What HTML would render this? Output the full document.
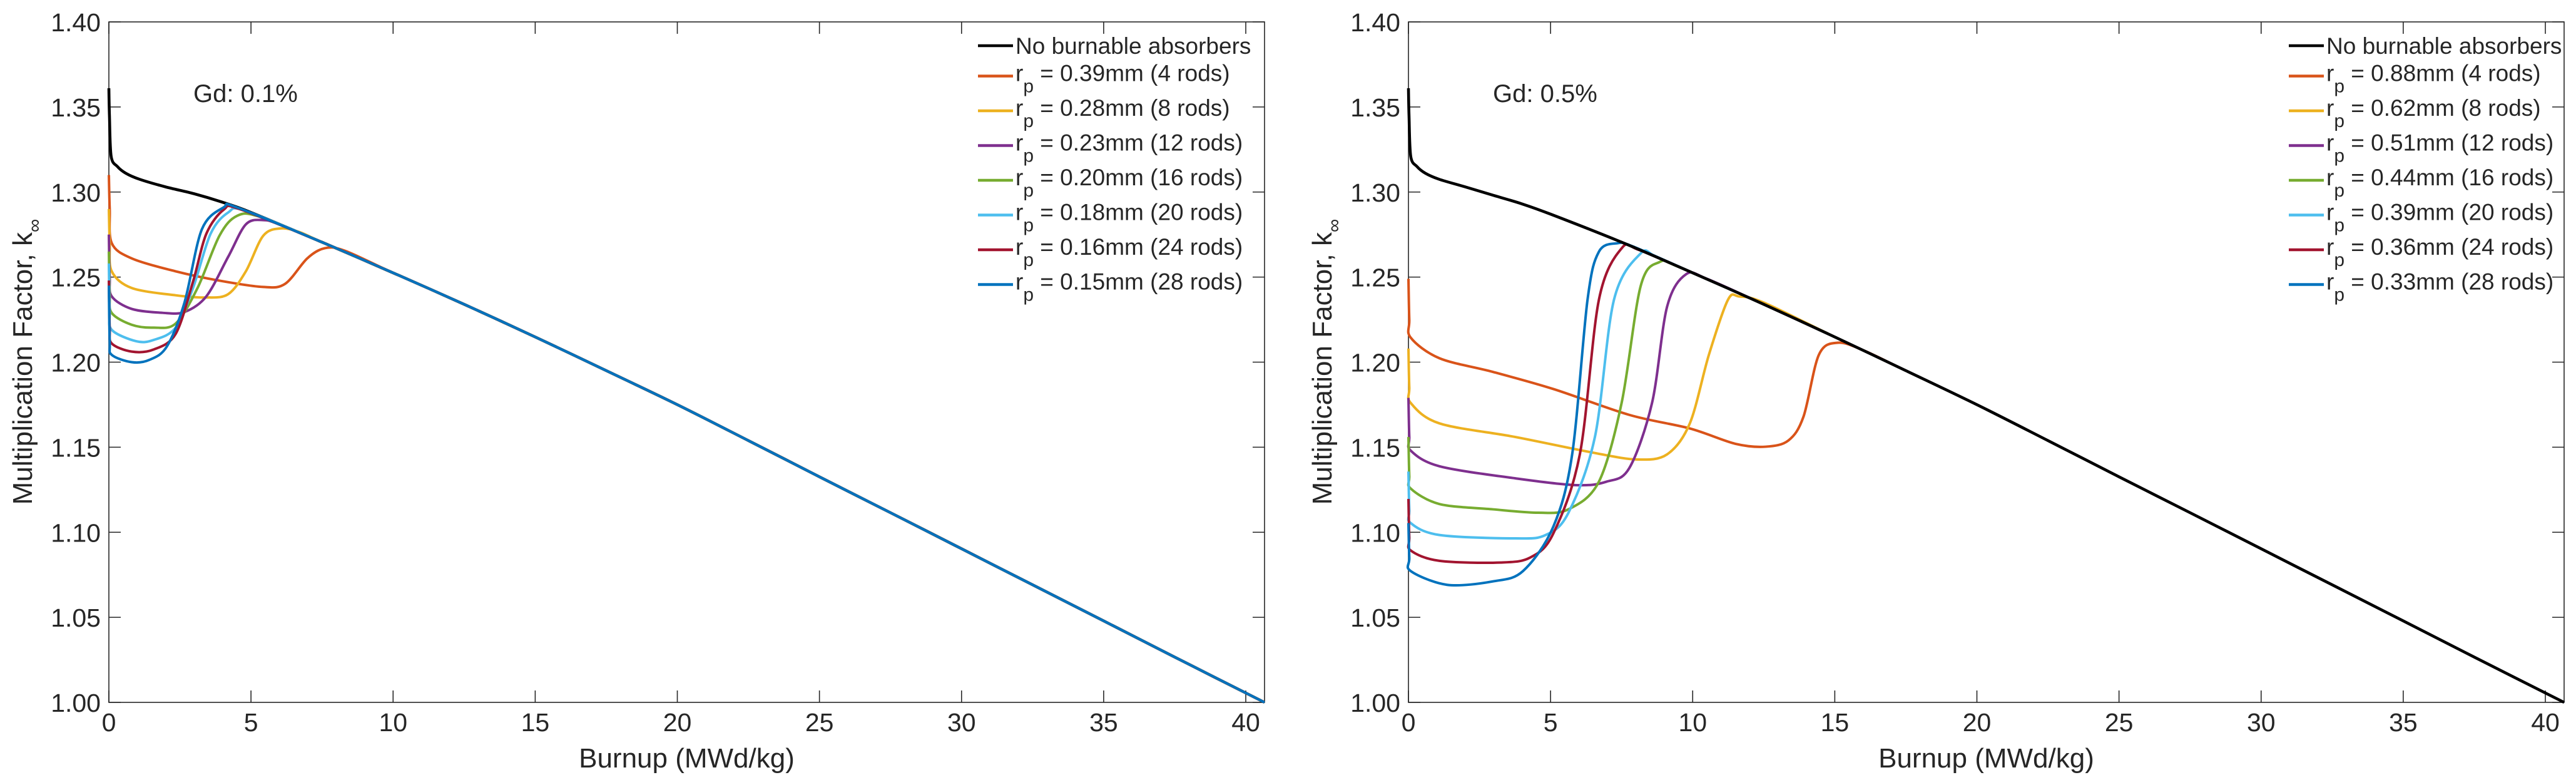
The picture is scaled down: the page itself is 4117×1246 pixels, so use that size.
<!DOCTYPE html>
<html><head><meta charset="utf-8"><style>
html,body{margin:0;padding:0;background:#fff;}
svg{display:block;}
text{font-family:"Liberation Sans",sans-serif;fill:#262626;}
</style></head>
<body>
<svg id="fig" width="4117" height="1246" viewBox="0 0 4117 1246" xmlns="http://www.w3.org/2000/svg"></svg>
<script>
// ---- shared axis ticks ----
const xTicks = [0,5,10,15,20,25,30,35,40];
const yTicks = [1.00,1.05,1.10,1.15,1.20,1.25,1.30,1.35,1.40];
const seriesColors = ["#D95319","#EDB120","#7E2F8E","#77AC30","#4DBEEE","#A2142F","#0072BD"];

// ---- left panel (Gd 0.1%) ----
const leftLegend = ["0.39mm (4 rods)","0.28mm (8 rods)","0.23mm (12 rods)","0.20mm (16 rods)","0.18mm (20 rods)","0.16mm (24 rods)","0.15mm (28 rods)"];
const leftBlackX = [0,0.02,0.08,0.3,0.6,1.08,2,3,4,5,7.5,10,12.5,15,17.5,20,22.5,25,27.5,30,32.5,35,37.5,40.66];
const leftBlackY = [1.361,1.345,1.321,1.315,1.311,1.3075,1.303,1.299,1.294,1.288,1.2705,1.2525,1.234,1.2148,1.195,1.175,1.1539,1.1326,1.1115,1.0903,1.0691,1.0479,1.0266,1.000];
const left4X = [0,0.03,0.1,0.8,2.35,3.89,5.43,6.2,6.98,7.6,8.3];
const left4Y = [1.310,1.290,1.270,1.261,1.2534,1.2479,1.2442,1.246,1.261,1.267,1.2655];
const left8X = [0,0.03,0.1,0.8,2.35,3.43,4.2,4.82,5.43,6.05,6.7];
const left8Y = [1.290,1.270,1.2534,1.2436,1.2393,1.238,1.240,1.2534,1.2743,1.2786,1.2765];
const left12X = [0,0.03,0.1,0.8,1.88,2.66,3.43,4.2,4.82,5.43,6.0];
const left12Y = [1.275,1.250,1.2387,1.2313,1.229,1.2295,1.2387,1.262,1.281,1.2835,1.281];
const left16X = [0,0.03,0.1,0.8,1.57,2.35,3.12,3.89,4.51,5.3];
const left16Y = [1.265,1.240,1.2289,1.222,1.2203,1.2227,1.2436,1.2743,1.286,1.2855];
const left20X = [0,0.03,0.1,0.96,1.57,2.35,2.96,3.58,4.2,4.8];
const left20Y = [1.258,1.230,1.219,1.2123,1.213,1.2203,1.2436,1.2755,1.288,1.289];
const left24X = [0,0.03,0.1,0.8,1.57,2.35,2.96,3.43,4.04,4.6];
const left24Y = [1.248,1.220,1.211,1.2062,1.2074,1.2166,1.2473,1.2755,1.2896,1.290];
const left28X = [0,0.03,0.1,0.8,1.42,2.04,2.66,3.27,4.04,4.5];
const left28Y = [1.245,1.212,1.2043,1.200,1.2013,1.2092,1.235,1.278,1.291,1.291];

// ---- right panel (Gd 0.5%) ----
const rightLegend = ["0.88mm (4 rods)","0.62mm (8 rods)","0.51mm (12 rods)","0.44mm (16 rods)","0.39mm (20 rods)","0.36mm (24 rods)","0.33mm (28 rods)"];
const rightBlackX = [0,0.02,0.08,0.3,0.6,1.08,2,3,4,5,7.5,10,12.5,15,17.5,20,22.5,25,27.5,30,32.5,35,37.5,40.66];
const rightBlackY = [1.361,1.345,1.321,1.315,1.311,1.3075,1.303,1.298,1.293,1.287,1.2705,1.2525,1.234,1.2148,1.195,1.175,1.1539,1.1326,1.1115,1.0903,1.0691,1.0479,1.0266,1.000];
const right4X = [0,0.03,0.08,1.09,2.96,5.1,7.77,9.9,11.5,12.57,13.37,13.9,14.44,15.1,16.0];
const right4Y = [1.249,1.225,1.2144,1.2023,1.1943,1.1842,1.169,1.161,1.152,1.1503,1.154,1.168,1.2043,1.2114,1.207];
const right8X = [0,0.03,0.08,1.09,3.76,6.43,8.03,9.1,9.9,10.57,11.24,11.64,12.5];
const right8Y = [1.208,1.185,1.176,1.164,1.156,1.147,1.1428,1.1458,1.164,1.2043,1.2366,1.2386,1.235];
const right12X = [0,0.03,0.08,1.09,3.76,5.9,6.96,7.77,8.57,9.1,9.77,10.5];
const right12Y = [1.179,1.156,1.148,1.1388,1.1317,1.1277,1.1297,1.1377,1.176,1.2326,1.2517,1.249];
const right16X = [0,0.03,0.08,1.09,2.96,4.56,5.63,6.7,7.5,8.17,8.83,9.5];
const right16Y = [1.156,1.133,1.1257,1.1166,1.1135,1.1115,1.1135,1.1297,1.176,1.2447,1.2588,1.256];
const right20X = [0,0.03,0.08,1.09,3.76,4.83,5.63,6.56,7.23,8.17,8.7];
const right20Y = [1.1357,1.113,1.1054,1.0984,1.0964,1.0984,1.1115,1.156,1.2366,1.2639,1.262];
const right24X = [0,0.03,0.08,1.09,3.23,4.3,5.1,6.03,6.7,7.5,8.1];
const right24Y = [1.1196,1.097,1.0893,1.0832,1.0822,1.0853,1.0994,1.1458,1.2366,1.2669,1.266];
const right28X = [0,0.03,0.08,1.36,2.96,4.03,5.1,5.76,6.3,6.7,7.36,7.9];
const right28Y = [1.1054,1.085,1.0772,1.0691,1.0711,1.0772,1.1034,1.1458,1.2366,1.2649,1.2699,1.268];

const NS = "http://www.w3.org/2000/svg";
const svg = document.getElementById('fig');
function mk(tag, attrs, parent){
  const e = document.createElementNS(NS, tag);
  for (const k in attrs) e.setAttribute(k, attrs[k]);
  (parent||svg).appendChild(e);
  return e;
}
function smoothPath(pts){
  let d = "M"+pts[0][0].toFixed(2)+","+pts[0][1].toFixed(2);
  for (let i=0;i<pts.length-1;i++){
    const p0=pts[Math.max(0,i-1)], p1=pts[i], p2=pts[i+1], p3=pts[Math.min(pts.length-1,i+2)];
    const t=0.16;
    const c1=[p1[0]+(p2[0]-p0[0])*t, p1[1]+(p2[1]-p0[1])*t];
    const c2=[p2[0]-(p3[0]-p1[0])*t, p2[1]-(p3[1]-p1[1])*t];
    d+=" C"+c1[0].toFixed(2)+","+c1[1].toFixed(2)+" "+c2[0].toFixed(2)+","+c2[1].toFixed(2)+" "+p2[0].toFixed(2)+","+p2[1].toFixed(2);
  }
  return d;
}

function panel(cfg){
  const x0=cfg.left, x1=cfg.left+1847, yT=35, yB=1122;
  const xMin=0, xMax=40.66, yMin=1.0, yMax=1.4;
  const sx = v => x0 + (v-xMin)/(xMax-xMin)*(x1-x0);
  const sy = v => yB - (v-yMin)/(yMax-yMin)*(yB-yT);
  const g = mk('g',{});
  
  

  const fr = mk('rect',{x:x0,y:yT,width:x1-x0,height:yB-yT,fill:'none',stroke:'#262626','stroke-width':1.6},g);
  
  

  xTicks.forEach(t=>{
    const X=sx(t);
    mk('line',{x1:X,y1:yB,x2:X,y2:yB-19,stroke:'#262626','stroke-width':1.6},g);
    mk('line',{x1:X,y1:yT,x2:X,y2:yT+19,stroke:'#262626','stroke-width':1.6},g);
    const tx = mk('text',{x:X,y:1168,'font-size':41,'text-anchor':'middle'},g);
    tx.textContent = String(t);
    
    
  });
  yTicks.forEach(t=>{
    const Y=sy(t);
    mk('line',{x1:x0,y1:Y,x2:x0+19,y2:Y,stroke:'#262626','stroke-width':1.6},g);
    mk('line',{x1:x1,y1:Y,x2:x1-19,y2:Y,stroke:'#262626','stroke-width':1.6},g);
    const ty = mk('text',{x:x0-13,y:Y+15,'font-size':41,'text-anchor':'end'},g);
    ty.textContent = t.toFixed(2);
    
    
  });

  const xt = mk('text',{x:(x0+x1)/2,y:1226,'font-size':44,'text-anchor':'middle','font-family':'DejaVu Sans, sans-serif'},g);
  xt.textContent='Burnup (MWd/kg)';
  
  
  const yt = mk('text',{x:0,y:0,'font-size':44,'text-anchor':'middle','font-family':'DejaVu Sans, sans-serif',transform:`translate(${x0-123},578) rotate(-90)`},g);
  yt.innerHTML='Multiplication Factor, k<tspan font-size="30" dy="14">∞</tspan>';
  
  

  const an = mk('text',{x:x0+135,y:163,'font-size':40},g);
  an.textContent=cfg.label;
  
  

  const blackPts = cfg.bx.map((v,i)=>[sx(v),sy(cfg.by[i])]);
  function drawBlack(){
    const p = mk('path',{d:smoothPath(blackPts),fill:'none',stroke:'#000','stroke-width':4.6,'stroke-linejoin':'round'},g);
    
    
  }
  if (!cfg.blackOnTop) drawBlack();
  cfg.series.forEach((s,i)=>{
    const last = s[0][s[0].length-1];
    const pts = s[0].map((v,j)=>[sx(v),sy(s[1][j])]);
    cfg.bx.forEach((v,j)=>{ if (v>last+0.6) pts.push([sx(v),sy(cfg.by[j])]); });
    const p = mk('path',{d:smoothPath(pts),fill:'none',stroke:seriesColors[i],'stroke-width':4,'stroke-linejoin':'round'},g);
    
    
  });
  if (cfg.blackOnTop) drawBlack();

  const lg = mk('g',{},g);
  
  
  const lx = cfg.legendX;
  const rows = [73,121.5,177,232.5,288,343.5,399,454.5];
  const l0 = mk('line',{x1:lx,y1:rows[0],x2:lx+56,y2:rows[0],stroke:'#000','stroke-width':4.5},lg);
  
  
  const t0 = mk('text',{x:lx+60,y:rows[0]+13,'font-size':37,'fill':'#000'},lg);
  t0.textContent='No burnable absorbers';
  
  
  cfg.legend.forEach((txt,i)=>{
    const Y=rows[i+1];
    const ln = mk('line',{x1:lx,y1:Y,x2:lx+56,y2:Y,stroke:seriesColors[i],'stroke-width':4.5},lg);
    
    
    const te = mk('text',{x:lx+60,y:Y+8,'font-size':37,'fill':'#000'},lg);
    te.innerHTML='r<tspan dy="18" font-size="30">p</tspan><tspan dy="-18"> = '+txt+'</tspan>';
    
    
  });
}

panel({name:'left-panel-gd-0.1', left:174, label:'Gd: 0.1%', legendX:1563, legend:leftLegend, blackOnTop:false,
  bx:leftBlackX, by:leftBlackY,
  series:[[left4X,left4Y],[left8X,left8Y],[left12X,left12Y],[left16X,left16Y],[left20X,left20Y],[left24X,left24Y],[left28X,left28Y]]});
panel({name:'right-panel-gd-0.5', left:2251, label:'Gd: 0.5%', legendX:3658, legend:rightLegend, blackOnTop:true,
  bx:rightBlackX, by:rightBlackY,
  series:[[right4X,right4Y],[right8X,right8Y],[right12X,right12Y],[right16X,right16Y],[right20X,right20Y],[right24X,right24Y],[right28X,right28Y]]});
</script>
</body></html>
